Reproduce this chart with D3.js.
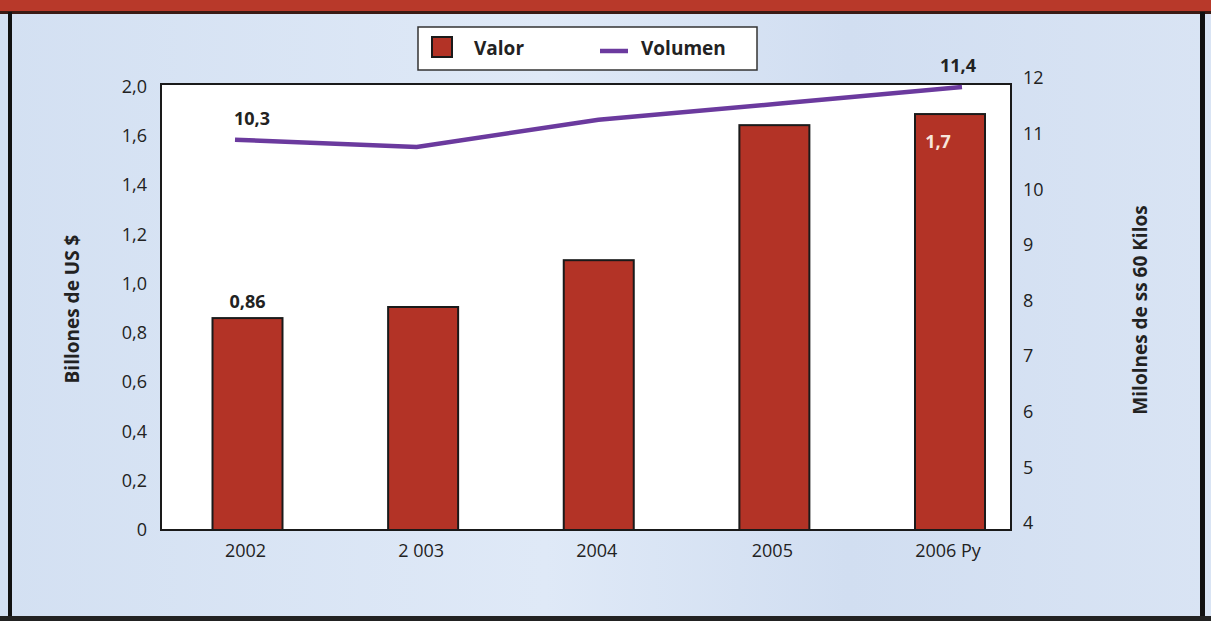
<!DOCTYPE html>
<html>
<head>
<meta charset="utf-8">
<script src="https://cdn.jsdelivr.net/npm/d3@7"></script>
<style>
  body { margin: 0; background: #fff; }
  svg { display: block; font-family: "Open Sans", sans-serif; }
</style>
</head>
<body>
<div id="chart"></div>
<script>
// data
const years = ["2002", "2003", "2004", "2005", "2006"];
const yearLabels = ["2002", "2 003", "2004", "2005", "2006 Py"];
const valor = [0.86, 0.905, 1.095, 1.643, 1.688];      // billones de US $
const volumen = [10.89, 10.76, 11.25, 11.54, 11.84];   // millones de sacos
const leftTicks = [0, 0.2, 0.4, 0.6, 0.8, 1.0, 1.2, 1.4, 1.6, 1.8];
const leftTickLabels = ["0", "0,2", "0,4", "0,6", "0,8", "1,0", "1,2", "1,4", "1,6", "2,0"];
const rightTicks = [4, 5, 6, 7, 8, 9, 10, 11, 12];
const valorNotes = [{ i: 0, text: "0,86" }, { i: 4, text: "1,7" }];
const volumenNotes = [{ i: 0, text: "10,3" }, { i: 4, text: "11,4" }];

const W = 1211, H = 621;
const plot = { left: 161, right: 1011, top: 84, bottom: 530 };
const FONT = "'Open Sans', sans-serif";

const svg = d3.select("#chart").append("svg")
  .attr("width", W).attr("height", H);

// page background (scanned light blue)
const defs = svg.append("defs");
const grad = defs.append("linearGradient").attr("id", "bg")
  .attr("x1", 0).attr("x2", 1).attr("y1", 0).attr("y2", 0);
grad.append("stop").attr("offset", "0%").attr("stop-color", "#d3e0f2");
grad.append("stop").attr("offset", "45%").attr("stop-color", "#dfe9f7");
grad.append("stop").attr("offset", "70%").attr("stop-color", "#d1def1");
grad.append("stop").attr("offset", "100%").attr("stop-color", "#d9e4f4");

svg.append("rect").attr("width", W).attr("height", H).attr("fill", "url(#bg)");

// frame
svg.append("rect").attr("x", 0).attr("y", 0).attr("width", W).attr("height", 12)
  .attr("fill", "#b8392a");
svg.append("rect").attr("x", 0).attr("y", 11).attr("width", W).attr("height", 3)
  .attr("fill", "#3a1a14");
svg.append("rect").attr("x", 8).attr("y", 12).attr("width", 4).attr("height", H)
  .attr("fill", "#111");
svg.append("rect").attr("x", 1200).attr("y", 12).attr("width", 5).attr("height", H)
  .attr("fill", "#111");
svg.append("rect").attr("x", 0).attr("y", 616).attr("width", W).attr("height", 5)
  .attr("fill", "#222");

// scales
const xBar = d3.scalePoint().domain(years).range([247.5, 950]);
const xLine = d3.scalePoint().domain(years).range([235, 962]);
const barW = 70;
const yL = d3.scaleLinear().domain([0, 1.81]).range([plot.bottom, plot.top]);
const yR = d3.scaleLinear().domain([4, 12]).range([523, 78]);

// plot area
svg.append("rect")
  .attr("x", plot.left).attr("y", plot.top)
  .attr("width", plot.right - plot.left).attr("height", plot.bottom - plot.top)
  .attr("fill", "#fff").attr("stroke", "#1a1a1a").attr("stroke-width", 2);

// left axis
const leftAxis = svg.append("g")
  .attr("transform", `translate(${plot.left},0)`)
  .call(d3.axisLeft(yL).tickValues(leftTicks).tickSize(0).tickPadding(14)
    .tickFormat((d, i) => leftTickLabels[i]));
leftAxis.select(".domain").remove();
leftAxis.selectAll("text")
  .attr("font-size", 18).attr("fill", "#222").attr("font-family", FONT);

// right axis
const rightAxis = svg.append("g")
  .attr("transform", `translate(${plot.right},0)`)
  .call(d3.axisRight(yR).tickValues(rightTicks).tickSize(0).tickPadding(12));
rightAxis.select(".domain").remove();
rightAxis.selectAll("text")
  .attr("font-size", 18).attr("fill", "#222").attr("font-family", FONT);

// x labels
svg.append("g").selectAll("text")
  .data(years)
  .join("text")
  .attr("x", d => xBar(d) - 2)
  .attr("y", 557)
  .attr("text-anchor", "middle")
  .attr("font-size", 18).attr("fill", "#222")
  .text((d, i) => yearLabels[i]);

// bars
svg.append("g").selectAll("rect")
  .data(years)
  .join("rect")
  .attr("x", d => xBar(d) - barW / 2)
  .attr("y", (d, i) => yL(valor[i]))
  .attr("width", barW)
  .attr("height", (d, i) => yL(0) - yL(valor[i]))
  .attr("fill", "#b33326")
  .attr("stroke", "#1a1a1a")
  .attr("stroke-width", 2);

// volume line
const line = d3.line()
  .x(d => xLine(d.year))
  .y(d => yR(d.v));
svg.append("path")
  .datum(years.map((y, i) => ({ year: y, v: volumen[i] })))
  .attr("d", line)
  .attr("fill", "none")
  .attr("stroke", "#6b3a9e")
  .attr("stroke-width", 4.5);

// value labels
svg.append("g").selectAll("text")
  .data(valorNotes)
  .join("text")
  .attr("x", d => xBar(years[d.i]) + (d.i === 4 ? -12 : 0))
  .attr("y", d => d.i === 4 ? yL(valor[d.i]) + 34 : yL(valor[d.i]) - 10)
  .attr("text-anchor", "middle")
  .attr("font-size", 18).attr("font-weight", "bold")
  .attr("fill", d => d.i === 4 ? "#f7e6dc" : "#222")
  .text(d => d.text);

svg.append("g").selectAll("text")
  .data(volumenNotes)
  .join("text")
  .attr("x", d => xLine(years[d.i]) + (d.i === 0 ? 17 : -4))
  .attr("y", d => yR(volumen[d.i]) - 15)
  .attr("text-anchor", "middle")
  .attr("font-size", 18).attr("font-weight", "bold")
  .attr("fill", "#222")
  .text(d => d.text);

// axis titles
svg.append("text")
  .attr("transform", "translate(79,309) rotate(-90)")
  .attr("text-anchor", "middle")
  .attr("font-size", 19).attr("font-weight", "bold").attr("fill", "#222")
  .text("Billones de US $");

svg.append("text")
  .attr("transform", "translate(1147,310) rotate(-90)")
  .attr("text-anchor", "middle")
  .attr("font-size", 19).attr("font-weight", "bold").attr("fill", "#222")
  .text("Milolnes  de ss 60 Kilos");

// legend
const lg = svg.append("g").attr("transform", "translate(418,27)");
lg.append("rect").attr("width", 339).attr("height", 43)
  .attr("fill", "#fff").attr("stroke", "#333").attr("stroke-width", 1.5);
lg.append("rect").attr("x", 14).attr("y", 10).attr("width", 20).attr("height", 20)
  .attr("fill", "#b33326").attr("stroke", "#1a1a1a").attr("stroke-width", 2);
lg.append("text").attr("x", 56).attr("y", 28)
  .attr("font-size", 19).attr("font-weight", "bold").attr("fill", "#222")
  .text("Valor");
lg.append("line").attr("x1", 182).attr("x2", 210).attr("y1", 24).attr("y2", 24)
  .attr("stroke", "#6b3a9e").attr("stroke-width", 4.5);
lg.append("text").attr("x", 223).attr("y", 28)
  .attr("font-size", 19).attr("font-weight", "bold").attr("fill", "#222")
  .text("Volumen");
</script>
</body>
</html>
